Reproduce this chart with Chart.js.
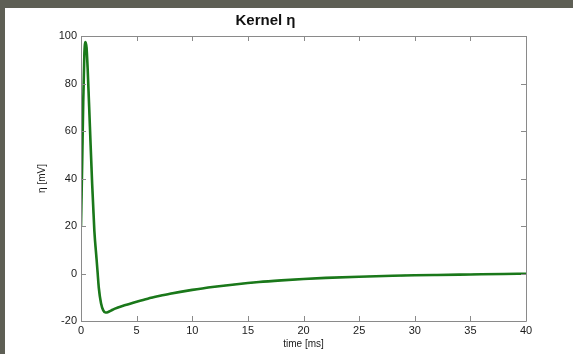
<!DOCTYPE html>
<html>
<head>
<meta charset="utf-8">
<script src="https://cdn.jsdelivr.net/npm/chart.js@4"></script>
<style>
  html, body { margin: 0; padding: 0; background: #5e5f55; width: 573px; height: 354px; overflow: hidden; }
  #panel { position: absolute; left: 5px; top: 8px; width: 568px; height: 346px; background: #fff; }
</style>
</head>
<body>
<div id="panel"><canvas id="kernel-chart" width="568" height="346"></canvas></div>
<script>
const timeMs = [0, 0.1, 0.2, 0.3, 0.4, 0.5, 0.6, 0.8, 1.0, 1.2, 1.4, 1.5, 1.6, 1.8, 2.0, 2.2, 2.4, 2.7, 3, 4, 5, 6, 7, 8, 10, 12, 14, 16, 18, 20, 22, 25, 28, 30, 32, 35, 38, 40];
const etaTrue = [20, 45, 72, 92, 97.5, 95, 86, 62, 38, 18, 6, 0, -6, -12.5, -15.5, -16.4, -16.3, -15.6, -14.9, -13.3, -11.9, -10.6, -9.5, -8.5, -6.9, -5.6, -4.5, -3.6, -2.9, -2.3, -1.85, -1.35, -0.95, -0.75, -0.6, -0.4, -0.2, -0.1];
const etaFit = [20, 45, 72, 92, 97.5, 95, 86, 62, 38, 18, 6, 0, -6, -12.5, -15.5, -16.4, -16.3, -15.6, -14.9, -13.3, -11.9, -10.6, -9.5, -8.5, -6.9, -5.6, -4.5, -3.6, -2.9, -2.3, -1.85, -1.35, -0.95, -0.75, -0.6, -0.4, -0.2, -0.1];
const xTicks = [0, 5, 10, 15, 20, 25, 30, 35, 40];
const yTicks = [-20, 0, 20, 40, 60, 80, 100];

const pts = (ys) => timeMs.map((t, i) => ({ x: t, y: ys[i] }));

// matlab style box with inward ticks
const boxTicks = {
  id: 'boxTicks',
  afterDatasetsDraw(chart) {
    const { ctx, chartArea: a, scales: { x, y } } = chart;
    ctx.save();
    ctx.strokeStyle = '#8a8a8a';
    ctx.lineWidth = 1;
    ctx.beginPath();
    ctx.rect(Math.round(a.left) + 0.5, Math.round(a.top) + 0.5, Math.round(a.right - a.left), Math.round(a.bottom - a.top));
    xTicks.forEach(v => {
      const px = Math.round(x.getPixelForValue(v)) + 0.5;
      ctx.moveTo(px, a.bottom); ctx.lineTo(px, a.bottom - 5);
      ctx.moveTo(px, a.top); ctx.lineTo(px, a.top + 5);
    });
    yTicks.forEach(v => {
      const py = Math.round(y.getPixelForValue(v)) + 0.5;
      ctx.moveTo(a.left, py); ctx.lineTo(a.left + 5, py);
      ctx.moveTo(a.right, py); ctx.lineTo(a.right - 5, py);
    });
    ctx.stroke();
    ctx.restore();
  }
};

new Chart(document.getElementById('kernel-chart'), {
  type: 'line',
  data: {
    datasets: [
      {
        label: 'eta',
        data: pts(etaTrue),
        borderColor: '#1a781a',
        borderWidth: 2.6,
        pointRadius: 0,
        cubicInterpolationMode: 'monotone'
      },
      {
        label: 'eta fit',
        data: pts(etaFit),
        borderColor: '#4cbc4c',
        borderWidth: 1.2,
        borderDash: [5, 4],
        pointRadius: 0,
        cubicInterpolationMode: 'monotone'
      }
    ]
  },
  options: {
    responsive: false,
    animation: false,
    layout: { padding: { top: 0, right: 47, bottom: 0, left: 0 } },
    plugins: {
      legend: { display: false },
      tooltip: { enabled: false },
      title: {
        display: true,
        text: 'Kernel η',
        color: '#111',
        font: { family: 'Liberation Sans, Arial, sans-serif', size: 15, weight: 'bold' },
        padding: { top: 4, bottom: 6 }
      }
    },
    scales: {
      x: {
        type: 'linear',
        min: 0, max: 40,
        afterFit(s) { s.height = 33; },
        afterBuildTicks(s) { s.ticks = xTicks.map(v => ({ value: v })); },
        grid: { display: false, drawTicks: false },
        border: { display: false },
        ticks: { color: '#1a1a1a', padding: 3, maxRotation: 0, font: { family: 'Liberation Sans, Arial, sans-serif', size: 11 } },
        title: { display: true, text: 'time [ms]', color: '#1a1a1a', padding: { top: 0, bottom: 4 }, font: { family: 'Liberation Sans, Arial, sans-serif', size: 10 } }
      },
      y: {
        min: -20, max: 100,
        afterFit(s) { s.width = 76; },
        afterBuildTicks(s) { s.ticks = yTicks.map(v => ({ value: v })); },
        grid: { display: false, drawTicks: false },
        border: { display: false },
        ticks: { color: '#1a1a1a', padding: 4, font: { family: 'Liberation Sans, Arial, sans-serif', size: 11 } },
        title: { display: true, text: 'η [mV]', color: '#1a1a1a', padding: { top: 31, bottom: 0 }, font: { family: 'Liberation Sans, Arial, sans-serif', size: 10 } }
      }
    }
  },
  plugins: [boxTicks]
});
</script>
</body>
</html>
